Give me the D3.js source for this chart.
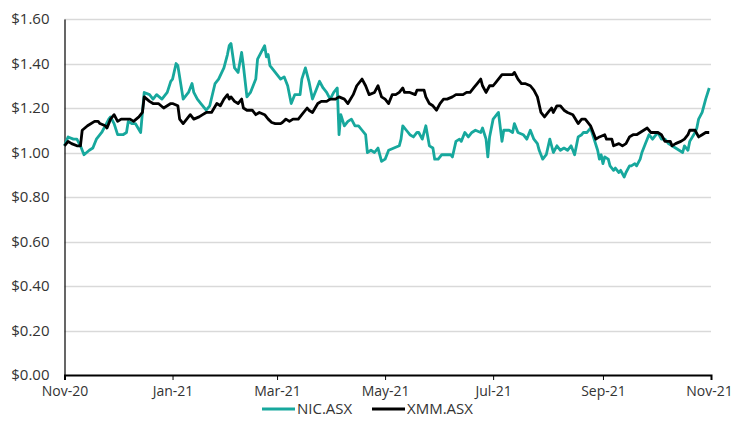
<!DOCTYPE html>
<html>
<head>
<meta charset="utf-8">
<script src="https://cdn.jsdelivr.net/npm/d3@7"></script>
<style>
  body { margin: 0; background: #fff; }
  svg text { font-family: "Open Sans", sans-serif; font-size: 15px; fill: #333; }
</style>
</head>
<body>
<div id="chart"></div>
<script>
// NIC.ASX share price
var nicDates = ["2020-11-01","2020-11-03","2020-11-06","2020-11-08","2020-11-10","2020-11-12","2020-11-15","2020-11-17","2020-11-19","2020-11-22",
  "2020-11-24","2020-11-26","2020-11-27","2020-11-29","2020-12-01","2020-12-04","2020-12-06","2020-12-07","2020-12-09","2020-12-11",
  "2020-12-14","2020-12-16","2020-12-19","2020-12-21","2020-12-23","2020-12-26","2020-12-29","2020-12-31","2021-01-01","2021-01-03",
  "2021-01-04","2021-01-07","2021-01-09","2021-01-10","2021-01-12","2021-01-13","2021-01-15","2021-01-17","2021-01-20","2021-01-22",
  "2021-01-25","2021-01-27","2021-01-30","2021-02-01","2021-02-02","2021-02-03","2021-02-05","2021-02-07","2021-02-09","2021-02-10",
  "2021-02-12","2021-02-14","2021-02-17","2021-02-18","2021-02-20","2021-02-22","2021-02-23","2021-02-24","2021-02-25","2021-02-28",
  "2021-03-02","2021-03-03","2021-03-05","2021-03-07","2021-03-09","2021-03-11","2021-03-14","2021-03-15","2021-03-17","2021-03-19",
  "2021-03-21","2021-03-23","2021-03-25","2021-03-27","2021-03-29","2021-03-31","2021-04-02","2021-04-04","2021-04-05","2021-04-06",
  "2021-04-08","2021-04-10","2021-04-12","2021-04-14","2021-04-16","2021-04-18","2021-04-20","2021-04-21","2021-04-23","2021-04-25",
  "2021-04-27","2021-04-29","2021-05-01","2021-05-03","2021-05-06","2021-05-09","2021-05-10","2021-05-11","2021-05-13","2021-05-15",
  "2021-05-17","2021-05-19","2021-05-20","2021-05-22","2021-05-24","2021-05-26","2021-05-28","2021-05-29","2021-05-31","2021-06-02",
  "2021-06-04","2021-06-07","2021-06-08","2021-06-10","2021-06-12","2021-06-13","2021-06-15","2021-06-17","2021-06-19","2021-06-21",
  "2021-06-24","2021-06-25","2021-06-27","2021-06-28","2021-06-29","2021-07-01","2021-07-03","2021-07-04","2021-07-06","2021-07-07",
  "2021-07-10","2021-07-12","2021-07-13","2021-07-15","2021-07-18","2021-07-20","2021-07-22","2021-07-24","2021-07-26","2021-07-27",
  "2021-07-29","2021-07-31","2021-08-02","2021-08-04","2021-08-06","2021-08-08","2021-08-10","2021-08-12","2021-08-14","2021-08-16",
  "2021-08-18","2021-08-20","2021-08-21","2021-08-23","2021-08-25","2021-08-27","2021-08-29","2021-08-30","2021-08-31","2021-09-01",
  "2021-09-02","2021-09-04","2021-09-05","2021-09-07","2021-09-08","2021-09-10","2021-09-11","2021-09-13","2021-09-14","2021-09-16",
  "2021-09-17","2021-09-19","2021-09-20","2021-09-22","2021-09-23","2021-09-25","2021-09-27","2021-09-29","2021-09-30","2021-10-02",
  "2021-10-04","2021-10-06","2021-10-08","2021-10-10","2021-10-12","2021-10-14","2021-10-16","2021-10-17","2021-10-19","2021-10-20",
  "2021-10-23","2021-10-24","2021-10-25","2021-10-27","2021-10-29","2021-10-31"];
var nicValues = [1.03,1.07,1.06,1.06,1.03,0.99,1.01,1.02,1.06,1.09,
  1.12,1.15,1.16,1.13,1.08,1.08,1.09,1.14,1.13,1.13,
  1.09,1.27,1.26,1.24,1.26,1.24,1.27,1.32,1.33,1.40,
  1.39,1.24,1.26,1.27,1.31,1.27,1.24,1.22,1.19,1.21,
  1.31,1.33,1.38,1.44,1.48,1.49,1.38,1.36,1.45,1.39,
  1.25,1.27,1.33,1.42,1.45,1.48,1.43,1.44,1.39,1.36,
  1.34,1.33,1.34,1.30,1.22,1.26,1.26,1.33,1.38,1.32,
  1.24,1.28,1.32,1.29,1.27,1.24,1.27,1.29,1.08,1.17,
  1.12,1.14,1.15,1.12,1.12,1.10,1.08,1.00,1.01,1.00,
  1.02,0.96,0.97,1.01,1.02,1.03,1.06,1.12,1.10,1.08,
  1.07,1.09,1.09,1.06,1.12,1.03,1.02,0.97,0.97,0.99,
  0.99,0.99,0.98,1.05,1.06,1.05,1.09,1.07,1.09,1.10,
  1.09,1.11,1.06,0.98,1.07,1.15,1.17,1.18,1.05,1.10,
  1.10,1.09,1.13,1.09,1.08,1.06,1.10,1.06,1.04,1.01,
  0.97,0.99,1.06,1.00,1.03,1.01,1.02,1.01,1.03,0.99,
  1.07,1.08,1.09,1.09,1.11,1.06,1.01,0.97,0.99,0.95,
  0.98,0.97,0.94,0.92,0.93,0.91,0.92,0.89,0.91,0.94,
  0.94,0.95,0.94,0.97,1.00,1.04,1.08,1.06,1.07,1.09,
  1.06,1.06,1.04,1.03,1.02,1.01,1.00,1.03,1.01,1.05,
  1.09,1.11,1.15,1.18,1.24,1.29];

// XMM.ASX share price
var xmmDates = ["2020-11-01","2020-11-03","2020-11-05","2020-11-08","2020-11-10","2020-11-11","2020-11-14","2020-11-18","2020-11-20","2020-11-21",
  "2020-11-24","2020-11-25","2020-11-27","2020-11-29","2020-12-01","2020-12-03","2020-12-08","2020-12-10","2020-12-13","2020-12-15",
  "2020-12-16","2020-12-19","2020-12-21","2020-12-24","2020-12-27","2020-12-31","2021-01-01","2021-01-04","2021-01-05","2021-01-07",
  "2021-01-09","2021-01-11","2021-01-13","2021-01-16","2021-01-18","2021-01-20","2021-01-23","2021-01-26","2021-01-28","2021-01-30",
  "2021-02-01","2021-02-02","2021-02-03","2021-02-05","2021-02-07","2021-02-09","2021-02-10","2021-02-12","2021-02-15","2021-02-17",
  "2021-02-19","2021-02-22","2021-02-24","2021-02-26","2021-02-28","2021-03-03","2021-03-04","2021-03-06","2021-03-08","2021-03-10",
  "2021-03-13","2021-03-15","2021-03-18","2021-03-19","2021-03-21","2021-03-24","2021-03-26","2021-03-29","2021-03-31","2021-04-03",
  "2021-04-05","2021-04-08","2021-04-10","2021-04-13","2021-04-15","2021-04-18","2021-04-20","2021-04-22","2021-04-25","2021-04-27",
  "2021-04-29","2021-05-01","2021-05-03","2021-05-05","2021-05-07","2021-05-09","2021-05-11","2021-05-12","2021-05-15","2021-05-18",
  "2021-05-19","2021-05-23","2021-05-24","2021-05-26","2021-05-28","2021-05-30","2021-06-01","2021-06-03","2021-06-05","2021-06-08",
  "2021-06-10","2021-06-14","2021-06-16","2021-06-18","2021-06-20","2021-06-22","2021-06-24","2021-06-25","2021-06-27","2021-06-29",
  "2021-07-01","2021-07-03","2021-07-06","2021-07-08","2021-07-09","2021-07-12","2021-07-13","2021-07-15","2021-07-17","2021-07-19",
  "2021-07-22","2021-07-24","2021-07-26","2021-07-28","2021-07-30","2021-08-01","2021-08-03","2021-08-04","2021-08-06","2021-08-08",
  "2021-08-10","2021-08-12","2021-08-15","2021-08-18","2021-08-20","2021-08-22","2021-08-25","2021-08-27","2021-08-28","2021-08-30",
  "2021-09-02","2021-09-03","2021-09-06","2021-09-07","2021-09-10","2021-09-12","2021-09-14","2021-09-16","2021-09-18","2021-09-20",
  "2021-09-22","2021-09-24","2021-09-26","2021-09-28","2021-09-29","2021-10-02","2021-10-04","2021-10-06","2021-10-09","2021-10-10",
  "2021-10-12","2021-10-15","2021-10-17","2021-10-19","2021-10-20","2021-10-23","2021-10-25","2021-10-27","2021-10-29","2021-10-31"];
var xmmValues = [1.03,1.05,1.04,1.03,1.03,1.10,1.12,1.14,1.14,1.13,
  1.12,1.11,1.15,1.17,1.14,1.15,1.15,1.14,1.16,1.18,
  1.25,1.23,1.22,1.22,1.20,1.22,1.22,1.21,1.15,1.13,
  1.15,1.17,1.15,1.16,1.17,1.18,1.18,1.22,1.21,1.24,
  1.26,1.24,1.25,1.23,1.22,1.24,1.20,1.19,1.19,1.17,
  1.18,1.17,1.15,1.135,1.13,1.13,1.135,1.15,1.14,1.15,
  1.15,1.17,1.20,1.19,1.18,1.22,1.23,1.23,1.24,1.24,
  1.25,1.24,1.22,1.26,1.30,1.33,1.30,1.26,1.27,1.30,
  1.25,1.24,1.22,1.26,1.26,1.27,1.29,1.27,1.27,1.26,
  1.28,1.28,1.25,1.22,1.21,1.19,1.22,1.24,1.24,1.25,
  1.26,1.26,1.27,1.27,1.29,1.31,1.33,1.30,1.27,1.30,
  1.30,1.32,1.35,1.35,1.35,1.35,1.36,1.33,1.31,1.31,
  1.30,1.28,1.25,1.18,1.16,1.18,1.20,1.18,1.21,1.21,
  1.19,1.18,1.17,1.13,1.15,1.15,1.12,1.08,1.06,1.07,
  1.08,1.06,1.06,1.03,1.04,1.03,1.04,1.07,1.08,1.08,
  1.09,1.10,1.11,1.09,1.09,1.09,1.08,1.05,1.05,1.03,
  1.04,1.05,1.06,1.08,1.10,1.10,1.07,1.08,1.09,1.09];

var yTicks = [0, 0.2, 0.4, 0.6, 0.8, 1.0, 1.2, 1.4, 1.6];
var xTicks = ["2020-11-01","2021-01-01","2021-03-01","2021-05-01","2021-07-01","2021-09-01","2021-11-01"];
var seriesNames = ["NIC.ASX", "XMM.ASX"];
var seriesColors = ["#17a89d", "#000000"];

var w = 734, h = 439;
var margin = {top: 19, right: 23, bottom: 64, left: 64.5};
var parse = d3.timeParse("%Y-%m-%d");

var svg = d3.select("#chart").append("svg")
    .attr("width", w)
    .attr("height", h);

var x = d3.scaleTime()
    .domain([parse("2020-11-01"), parse("2021-11-01")])
    .range([margin.left, w - margin.right]);

var y = d3.scaleLinear()
    .domain([0, 1.6])
    .range([h - margin.bottom, margin.top]);

// gridlines
svg.append("g")
    .selectAll("line")
    .data(yTicks.filter(function(d) { return d > 0; }))
    .enter().append("line")
    .attr("x1", margin.left)
    .attr("x2", w - margin.right)
    .attr("y1", function(d) { return Math.round(y(d)) + 0.5; })
    .attr("y2", function(d) { return Math.round(y(d)) + 0.5; })
    .attr("stroke", "#d9d9d9")
    .attr("stroke-width", 1.3);

// y axis
var yAxis = svg.append("g")
    .attr("transform", "translate(" + margin.left + ",0)")
    .call(d3.axisLeft(y).tickValues(yTicks).tickSize(0).tickPadding(15)
        .tickFormat(function(d) { return "$" + d3.format(".2f")(d); }));
yAxis.select(".domain").attr("stroke", "#000").attr("stroke-width", 1.2);
yAxis.selectAll("text").style("font-size", "15px").attr("fill", "#333");

// x axis
var xAxis = svg.append("g")
    .attr("transform", "translate(0," + y(0) + ")")
    .call(d3.axisBottom(x).tickValues(xTicks.map(parse)).tickSizeOuter(0).tickSize(5).tickPadding(6)
        .tickFormat(d3.timeFormat("%b-%y")));
xAxis.select(".domain").attr("stroke", "#000").attr("stroke-width", 2);
xAxis.selectAll(".tick line").attr("stroke", "#000").attr("stroke-width", 1);
xAxis.selectAll("text").style("font-size", "14px").attr("fill", "#333");
// keep the last label inside the picture
xAxis.selectAll(".tick:last-of-type text").attr("dx", -2);

var line = d3.line()
    .x(function(d) { return x(d.date); })
    .y(function(d) { return y(d.value); });

function toPoints(dates, values) {
    return dates.map(function(d, i) { return {date: parse(d), value: values[i]}; });
}

var series = [toPoints(nicDates, nicValues), toPoints(xmmDates, xmmValues)];

svg.append("g")
    .selectAll("path")
    .data(series)
    .enter().append("path")
    .attr("d", line)
    .attr("fill", "none")
    .attr("stroke", function(d, i) { return seriesColors[i]; })
    .attr("stroke-width", 2.8)
    .attr("stroke-linejoin", "round");

// legend
var legend = svg.append("g")
    .selectAll("g")
    .data(seriesNames)
    .enter().append("g")
    .attr("transform", function(d, i) { return "translate(" + (262 + i * 110) + ",409)"; });

legend.append("line")
    .attr("x1", 0).attr("x2", 33)
    .attr("stroke", function(d, i) { return seriesColors[i]; })
    .attr("stroke-width", 3);

legend.append("text")
    .attr("x", 35)
    .attr("dy", "0.35em")
    .style("font-size", "15px")
    .text(function(d) { return d; });
</script>
</body>
</html>
